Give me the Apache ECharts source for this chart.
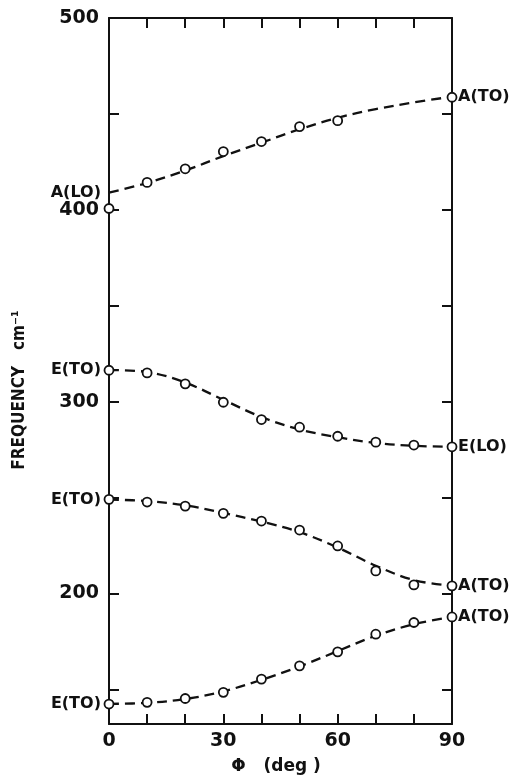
<!DOCTYPE html>
<html>
<head>
<meta charset="utf-8">
<script src="https://cdn.jsdelivr.net/npm/echarts@6/dist/echarts.min.js"></script>
<style>
  html, body { margin: 0; padding: 0; background: #fff; }
  #chart { width: 513px; height: 778px; }
</style>
</head>
<body>
<div id="chart"></div>
<script>
// Angle phi (deg) at which the phonon frequencies were measured
const phi = [0, 10, 20, 30, 40, 50, 60, 70, 80, 90];

// Measured frequencies (cm^-1), one branch per array
const branchA = [400.7, 414.3, 421.4, 430.4, 435.6, 443.4, 446.5, null, null, 458.7];
const branchB = [316.4, 315.0, 309.3, 299.7, 290.7, 286.7, 282.0, 278.9, 277.4, 276.5];
const branchC = [249.1, 247.7, 245.6, 241.8, 237.8, 233.1, 224.8, 211.8, 204.5, 204.0];
const branchD = [142.4, 143.3, 145.3, 148.5, 155.4, 162.3, 169.6, 178.8, 184.9, 187.8];

// Dashed guide curves through each branch
const curveA = [409, 414, 420.5, 428, 435, 442, 448, 452.5, 456, 459];
const curveB = [316.5, 315.5, 310, 301, 292, 285.5, 281.5, 278.5, 277, 276.5];
const curveC = [249, 248.2, 246, 242, 237.5, 232, 224, 214.5, 207, 204];
const curveD = [142.5, 143, 145, 149, 155, 162, 170, 178, 184, 187.8];

// Mode labels at the 0 deg and 90 deg ends of each curve
const endLabels = [
  ['A(LO)', 'A(TO)'],
  ['E(TO)', 'E(LO)'],
  ['E(TO)', 'A(TO)'],
  ['E(TO)', 'A(TO)']
];

// Axis ticks and labels
const xTicks = [10, 20, 30, 40, 50, 60, 70, 80];
const xLabels = [0, 30, 60, 90];
const yTicks = [150, 200, 250, 300, 350, 400, 450];
const yLabels = [200, 300, 400, 500];

const FONT = 'DejaVu Sans';
const INK = '#111';

const chart = echarts.init(document.getElementById('chart'), null, { renderer: 'canvas' });

function pairs(vals) {
  return phi.map((p, i) => [p, vals[i]]).filter(d => d[1] !== null);
}

function curveSeries(vals, labels) {
  const data = pairs(vals).map((d, i, arr) => {
    const item = { value: d };
    if (i === 0 || i === arr.length - 1) {
      item.label = {
        show: true,
        formatter: i === 0 ? labels[0] : labels[1],
        position: i === 0 ? 'left' : 'right',
        distance: i === 0 ? 8 : 6,
        color: INK,
        fontFamily: FONT,
        fontWeight: 'bold',
        fontSize: 16
      };
    }
    return item;
  });
  return {
    type: 'line',
    data: data,
    smooth: 0.35,
    symbol: 'circle',
    symbolSize: 0.1,
    showSymbol: true,
    itemStyle: { color: 'transparent', borderWidth: 0 },
    lineStyle: { color: INK, width: 2.3, type: [10, 6] },
    z: 2,
    silent: true
  };
}

function pointSeries(vals) {
  return {
    type: 'line',
    data: pairs(vals),
    lineStyle: { width: 0, opacity: 0 },
    symbol: 'circle',
    symbolSize: 9,
    itemStyle: { color: '#fff', borderColor: INK, borderWidth: 1.8 },
    z: 3,
    silent: true
  };
}

const axisLine = { show: true, onZero: false, lineStyle: { color: INK, width: 2 } };
const tickStyle = { lineStyle: { color: INK, width: 2 } };

chart.setOption({
  animation: false,
  backgroundColor: '#fff',
  grid: { left: 109, right: 61, top: 18, bottom: 54, containLabel: false },
  xAxis: [
    {
      type: 'value', min: 0, max: 90, position: 'bottom',
      axisLine: axisLine,
      axisTick: { show: true, inside: true, length: 10, customValues: xTicks, ...tickStyle },
      axisLabel: { show: true, customValues: xLabels, margin: 8, color: INK, fontFamily: FONT, fontWeight: 'bold', fontSize: 19 },
      splitLine: { show: false }
    },
    {
      type: 'value', min: 0, max: 90, position: 'top',
      axisLine: axisLine,
      axisTick: { show: true, inside: true, length: 10, customValues: xTicks, ...tickStyle },
      axisLabel: { show: false },
      splitLine: { show: false }
    }
  ],
  yAxis: [
    {
      type: 'value', min: 132, max: 500, position: 'left',
      axisLine: axisLine,
      axisTick: { show: true, inside: true, length: 10, customValues: yTicks, ...tickStyle },
      axisLabel: { show: true, customValues: yLabels, margin: 10, color: INK, fontFamily: FONT, fontWeight: 'bold', fontSize: 19 },
      splitLine: { show: false }
    },
    {
      type: 'value', min: 132, max: 500, position: 'right',
      axisLine: axisLine,
      axisTick: { show: true, inside: true, length: 10, customValues: yTicks, ...tickStyle },
      axisLabel: { show: false },
      splitLine: { show: false }
    }
  ],
  graphic: [
    {
      type: 'text',
      x: 20, y: 390,
      rotation: Math.PI / 2,
      style: {
        text: 'FREQUENCY   cm⁻¹',
        fill: INK,
        font: 'bold 17px "DejaVu Sans Condensed", "DejaVu Sans"',
        align: 'center',
        verticalAlign: 'middle'
      }
    },
    {
      type: 'text',
      x: 276, y: 767,
      style: {
        text: 'Φ   (deg )',
        fill: INK,
        font: 'bold 17px "DejaVu Sans"',
        align: 'center',
        verticalAlign: 'middle'
      }
    }
  ],
  series: [
    curveSeries(curveA, endLabels[0]),
    curveSeries(curveB, endLabels[1]),
    curveSeries(curveC, endLabels[2]),
    curveSeries(curveD, endLabels[3]),
    pointSeries(branchA),
    pointSeries(branchB),
    pointSeries(branchC),
    pointSeries(branchD)
  ]
});
</script>
</body>
</html>
